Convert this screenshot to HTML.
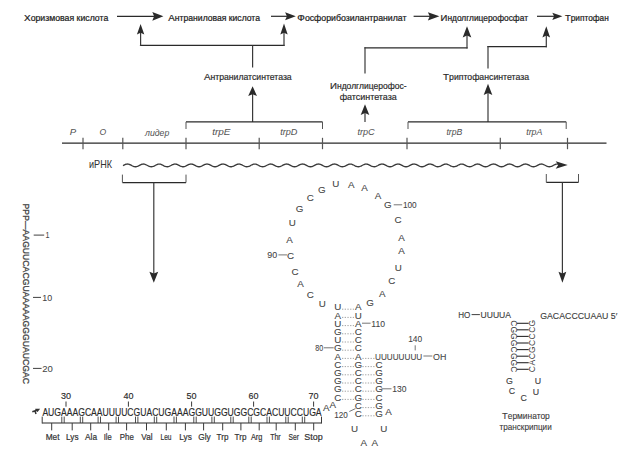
<!DOCTYPE html>
<html><head><meta charset="utf-8"><style>
html,body{margin:0;padding:0;background:#fff;}
svg{display:block;font-family:"Liberation Sans", sans-serif;}
</style></head><body>
<svg width="629" height="456" viewBox="0 0 629 456">
<rect width="629" height="456" fill="#fff"/>
<text x="24.0" y="20.50" font-size="8.6" textLength="84.3" lengthAdjust="spacingAndGlyphs" fill="#222" stroke="#222" stroke-width="0.22"><tspan font-size="9.8">Х</tspan>оризмовая кислота</text>
<text x="168.3" y="20.50" font-size="8.6" textLength="91.7" lengthAdjust="spacingAndGlyphs" fill="#222" stroke="#222" stroke-width="0.22"><tspan font-size="9.8">А</tspan>нтраниловая кислота</text>
<text x="297.3" y="20.50" font-size="8.6" textLength="109.2" lengthAdjust="spacingAndGlyphs" fill="#222" stroke="#222" stroke-width="0.22"><tspan font-size="9.8">Ф</tspan>осфорибозилантранилат</text>
<text x="440.6" y="20.50" font-size="8.6" textLength="87.4" lengthAdjust="spacingAndGlyphs" fill="#222" stroke="#222" stroke-width="0.22"><tspan font-size="9.8">И</tspan>ндолглицерофосфат</text>
<text x="565.0" y="20.50" font-size="8.6" textLength="43.7" lengthAdjust="spacingAndGlyphs" fill="#222" stroke="#222" stroke-width="0.22"><tspan font-size="9.8">Т</tspan>риптофан</text>
<line x1="117.0" y1="16.3" x2="157.4" y2="16.3" stroke="#2a2a2a" stroke-width="1.2" />
<polygon points="163.4,16.3 152.3,11.9 154.1,16.3 152.3,20.7" fill="#2a2a2a"/>
<line x1="271.0" y1="16.3" x2="289.8" y2="16.3" stroke="#2a2a2a" stroke-width="1.2" />
<polygon points="295.8,16.3 285.1,12.3 286.9,16.3 285.1,20.3" fill="#2a2a2a"/>
<line x1="413.6" y1="16.3" x2="433.4" y2="16.3" stroke="#2a2a2a" stroke-width="1.2" />
<polygon points="439.4,16.3 427.9,12.2 429.7,16.3 427.9,20.4" fill="#2a2a2a"/>
<line x1="537.0" y1="16.3" x2="556.4" y2="16.3" stroke="#2a2a2a" stroke-width="1.2" />
<polygon points="562.4,16.3 552.3,12.7 554.1,16.3 552.3,19.9" fill="#2a2a2a"/>
<line x1="139.9" y1="45.4" x2="284.6" y2="45.4" stroke="#2a2a2a" stroke-width="1.2" />
<line x1="140.6" y1="46.0" x2="140.6" y2="29.9" stroke="#3a3a3a" stroke-width="1.2" />
<polygon points="140.6,23.9 136.9,34.5 140.6,32.7 144.3,34.5" fill="#2a2a2a"/>
<line x1="284.0" y1="46.0" x2="284.0" y2="29.5" stroke="#3a3a3a" stroke-width="1.2" />
<polygon points="284.0,23.5 280.3,34.5 284.0,32.7 287.7,34.5" fill="#2a2a2a"/>
<line x1="252.6" y1="45.4" x2="252.6" y2="67.4" stroke="#3a3a3a" stroke-width="1.2" />
<text x="203.9" y="80.30" font-size="8.4" textLength="87.8" lengthAdjust="spacingAndGlyphs" fill="#2a2a2a" stroke="#2a2a2a" stroke-width="0.18"><tspan font-size="9.5">А</tspan>нтранилатсинтетаза</text>
<line x1="252.6" y1="121.9" x2="252.6" y2="92.3" stroke="#3a3a3a" stroke-width="1.2" />
<polygon points="252.6,86.3 248.2,96.1 252.6,94.3 257.0,96.1" fill="#2a2a2a"/>
<line x1="364.4" y1="47.8" x2="467.6" y2="47.8" stroke="#2a2a2a" stroke-width="1.2" />
<line x1="467.0" y1="48.4" x2="467.0" y2="32.2" stroke="#3a3a3a" stroke-width="1.2" />
<polygon points="467.0,26.2 462.7,37.4 467.0,35.6 471.3,37.4" fill="#2a2a2a"/>
<line x1="365.0" y1="47.2" x2="365.0" y2="73.4" stroke="#3a3a3a" stroke-width="1.2" />
<text x="330.0" y="88.50" font-size="8.4" textLength="76.6" lengthAdjust="spacingAndGlyphs" fill="#2a2a2a" stroke="#2a2a2a" stroke-width="0.18"><tspan font-size="9.5">И</tspan>ндолглицерофос-</text>
<text x="339.7" y="100.00" font-size="8.4" textLength="57.1" lengthAdjust="spacingAndGlyphs" fill="#2a2a2a" stroke="#2a2a2a" stroke-width="0.18"><tspan font-size="8.4">ф</tspan>атсинтетаза</text>
<line x1="365.0" y1="122.0" x2="365.0" y2="110.2" stroke="#3a3a3a" stroke-width="1.2" />
<polygon points="365.0,104.2 360.7,114.9 365.0,113.1 369.3,114.9" fill="#2a2a2a"/>
<line x1="487.4" y1="46.6" x2="546.9" y2="46.6" stroke="#2a2a2a" stroke-width="1.2" />
<line x1="546.3" y1="47.2" x2="546.3" y2="32.2" stroke="#3a3a3a" stroke-width="1.2" />
<polygon points="546.3,26.2 542.4,37.4 546.3,35.6 550.1,37.4" fill="#2a2a2a"/>
<line x1="488.0" y1="46.0" x2="488.0" y2="68.5" stroke="#3a3a3a" stroke-width="1.2" />
<text x="443.0" y="79.60" font-size="8.4" textLength="86.0" lengthAdjust="spacingAndGlyphs" fill="#2a2a2a" stroke="#2a2a2a" stroke-width="0.18"><tspan font-size="9.5">Т</tspan>риптофансинтетаза</text>
<line x1="488.0" y1="121.9" x2="488.0" y2="89.7" stroke="#3a3a3a" stroke-width="1.2" />
<polygon points="488.0,83.7 483.7,94.9 488.0,93.1 492.3,94.9" fill="#2a2a2a"/>
<line x1="186.0" y1="121.9" x2="322.5" y2="121.9" stroke="#2a2a2a" stroke-width="1.2" />
<line x1="186.0" y1="121.9" x2="186.0" y2="129.0" stroke="#555" stroke-width="1.0" />
<line x1="322.5" y1="121.9" x2="322.5" y2="129.0" stroke="#555" stroke-width="1.0" />
<line x1="408.0" y1="121.9" x2="566.2" y2="121.9" stroke="#2a2a2a" stroke-width="1.2" />
<line x1="408.0" y1="121.9" x2="408.0" y2="129.0" stroke="#555" stroke-width="1.0" />
<line x1="566.2" y1="121.9" x2="566.2" y2="129.0" stroke="#555" stroke-width="1.0" />
<line x1="62.0" y1="143.2" x2="606.5" y2="143.2" stroke="#2a2a2a" stroke-width="1.2" />
<line x1="83.0" y1="137.8" x2="83.0" y2="149.2" stroke="#555" stroke-width="1.2" />
<line x1="122.8" y1="137.8" x2="122.8" y2="149.2" stroke="#555" stroke-width="1.2" />
<line x1="186.0" y1="137.8" x2="186.0" y2="149.2" stroke="#555" stroke-width="1.2" />
<line x1="259.2" y1="137.8" x2="259.2" y2="149.2" stroke="#555" stroke-width="1.2" />
<line x1="322.5" y1="137.8" x2="322.5" y2="149.2" stroke="#555" stroke-width="1.2" />
<line x1="407.0" y1="137.8" x2="407.0" y2="149.2" stroke="#555" stroke-width="1.2" />
<line x1="500.3" y1="137.8" x2="500.3" y2="149.2" stroke="#555" stroke-width="1.2" />
<line x1="567.5" y1="137.8" x2="567.5" y2="149.2" stroke="#555" stroke-width="1.2" />
<text x="69.8" y="135.3" font-size="9.2" textLength="6.4" lengthAdjust="spacingAndGlyphs" fill="#555" style="font-style:italic;"  stroke="#555" stroke-width="0.05">P</text>
<text x="99.4" y="135.4" font-size="9.2" textLength="6.7" lengthAdjust="spacingAndGlyphs" fill="#555" style="font-style:italic;"  stroke="#555" stroke-width="0.05">O</text>
<text x="145.0" y="135.6" font-size="9.6" textLength="24.3" lengthAdjust="spacingAndGlyphs" fill="#555" style="font-style:italic;"  stroke="#555" stroke-width="0.05">лидер</text>
<text x="212.2" y="135.4" font-size="9.6" textLength="18.3" lengthAdjust="spacingAndGlyphs" fill="#555" style="font-style:italic;"  stroke="#555" stroke-width="0.05">trpE</text>
<text x="280.2" y="135.4" font-size="9.6" textLength="17.2" lengthAdjust="spacingAndGlyphs" fill="#555" style="font-style:italic;"  stroke="#555" stroke-width="0.05">trpD</text>
<text x="357.5" y="135.4" font-size="9.6" textLength="17.2" lengthAdjust="spacingAndGlyphs" fill="#555" style="font-style:italic;"  stroke="#555" stroke-width="0.05">trpC</text>
<text x="446.4" y="135.4" font-size="9.6" textLength="16.0" lengthAdjust="spacingAndGlyphs" fill="#555" style="font-style:italic;"  stroke="#555" stroke-width="0.05">trpB</text>
<text x="526.2" y="135.4" font-size="9.6" textLength="16.2" lengthAdjust="spacingAndGlyphs" fill="#555" style="font-style:italic;"  stroke="#555" stroke-width="0.05">trpA</text>
<text x="89.0" y="168.0" font-size="10.2" textLength="23.0" lengthAdjust="spacingAndGlyphs" fill="#333" style=""  stroke="#333" stroke-width="0.05">иРНК</text>
<polyline points="123.00,165.62 123.50,165.36 124.00,165.09 124.50,164.84 125.00,164.61 125.50,164.41 126.00,164.25 126.50,164.13 127.00,164.07 127.50,164.05 128.00,164.09 128.50,164.18 129.00,164.31 129.50,164.49 130.00,164.70 130.50,164.94 131.00,165.20 131.50,165.46 132.00,165.73 132.50,165.98 133.00,166.21 133.50,166.40 134.00,166.56 134.50,166.67 135.00,166.74 135.50,166.75 136.00,166.71 136.50,166.62 137.00,166.48 137.50,166.30 138.00,166.08 138.50,165.84 139.00,165.58 139.50,165.31 140.00,165.05 140.50,164.80 141.00,164.58 141.50,164.38 142.00,164.23 142.50,164.12 143.00,164.06 143.50,164.05 144.00,164.10 144.50,164.19 145.00,164.34 145.50,164.52 146.00,164.74 146.50,164.98 147.00,165.24 147.50,165.51 148.00,165.77 148.50,166.02 149.00,166.24 149.50,166.43 150.00,166.58 150.50,166.69 151.00,166.74 151.50,166.74 152.00,166.70 152.50,166.60 153.00,166.45 153.50,166.26 154.00,166.04 154.50,165.80 155.00,165.54 155.50,165.27 156.00,165.01 156.50,164.77 157.00,164.54 157.50,164.36 158.00,164.21 158.50,164.11 159.00,164.06 159.50,164.06 160.00,164.11 160.50,164.21 161.00,164.36 161.50,164.55 162.00,164.77 162.50,165.02 163.00,165.28 163.50,165.55 164.00,165.81 164.50,166.05 165.00,166.27 165.50,166.46 166.00,166.60 166.50,166.70 167.00,166.75 167.50,166.74 168.00,166.68 168.50,166.58 169.00,166.42 169.50,166.23 170.00,166.01 170.50,165.76 171.00,165.50 171.50,165.23 172.00,164.97 172.50,164.73 173.00,164.51 173.50,164.33 174.00,164.19 174.50,164.10 175.00,164.05 175.50,164.06 176.00,164.12 176.50,164.23 177.00,164.39 177.50,164.59 178.00,164.81 178.50,165.06 179.00,165.33 179.50,165.59 180.00,165.85 180.50,166.09 181.00,166.30 181.50,166.48 182.00,166.62 182.50,166.71 183.00,166.75 183.50,166.73 184.00,166.67 184.50,166.55 185.00,166.40 185.50,166.20 186.00,165.97 186.50,165.72 187.00,165.45 187.50,165.19 188.00,164.93 188.50,164.69 189.00,164.48 189.50,164.30 190.00,164.17 190.50,164.09 191.00,164.05 191.50,164.07 192.00,164.14 192.50,164.26 193.00,164.42 193.50,164.62 194.00,164.85 194.50,165.10 195.00,165.37 195.50,165.63 196.00,165.89 196.50,166.13 197.00,166.34 197.50,166.51 198.00,166.64 198.50,166.72 199.00,166.75 199.50,166.73 200.00,166.65 200.50,166.53 201.00,166.37 201.50,166.16 202.00,165.93 202.50,165.68 203.00,165.41 203.50,165.15 204.00,164.89 204.50,164.66 205.00,164.45 205.50,164.28 206.00,164.15 206.50,164.08 207.00,164.05 207.50,164.08 208.00,164.15 208.50,164.28 209.00,164.45 209.50,164.66 210.00,164.89 210.50,165.15 211.00,165.41 211.50,165.68 212.00,165.93 212.50,166.16 213.00,166.37 213.50,166.53 214.00,166.65 214.50,166.73 215.00,166.75 215.50,166.72 216.00,166.64 216.50,166.51 217.00,166.34 217.50,166.13 218.00,165.89 218.50,165.63 219.00,165.37 219.50,165.10 220.00,164.85 220.50,164.62 221.00,164.42 221.50,164.26 222.00,164.14 222.50,164.07 223.00,164.05 223.50,164.09 224.00,164.17 224.50,164.30 225.00,164.48 225.50,164.69 226.00,164.93 226.50,165.19 227.00,165.45 227.50,165.72 228.00,165.97 228.50,166.20 229.00,166.40 229.50,166.55 230.00,166.67 230.50,166.73 231.00,166.75 231.50,166.71 232.00,166.62 232.50,166.48 233.00,166.30 233.50,166.09 234.00,165.85 234.50,165.59 235.00,165.33 235.50,165.06 236.00,164.81 236.50,164.59 237.00,164.39 237.50,164.23 238.00,164.12 238.50,164.06 239.00,164.05 239.50,164.10 240.00,164.19 240.50,164.33 241.00,164.51 241.50,164.73 242.00,164.97 242.50,165.23 243.00,165.50 243.50,165.76 244.00,166.01 244.50,166.23 245.00,166.42 245.50,166.58 246.00,166.68 246.50,166.74 247.00,166.75 247.50,166.70 248.00,166.60 248.50,166.46 249.00,166.27 249.50,166.05 250.00,165.81 250.50,165.55 251.00,165.28 251.50,165.02 252.00,164.77 252.50,164.55 253.00,164.36 253.50,164.21 254.00,164.11 254.50,164.06 255.00,164.06 255.50,164.11 256.00,164.21 256.50,164.36 257.00,164.54 257.50,164.77 258.00,165.01 258.50,165.27 259.00,165.54 259.50,165.80 260.00,166.04 260.50,166.26 261.00,166.45 261.50,166.60 262.00,166.70 262.50,166.74 263.00,166.74 263.50,166.69 264.00,166.58 264.50,166.43 265.00,166.24 265.50,166.02 266.00,165.77 266.50,165.51 267.00,165.24 267.50,164.98 268.00,164.74 268.50,164.52 269.00,164.34 269.50,164.19 270.00,164.10 270.50,164.05 271.00,164.06 271.50,164.12 272.00,164.23 272.50,164.38 273.00,164.58 273.50,164.80 274.00,165.05 274.50,165.31 275.00,165.58 275.50,165.84 276.00,166.08 276.50,166.30 277.00,166.48 277.50,166.62 278.00,166.71 278.50,166.75 279.00,166.74 279.50,166.67 280.00,166.56 280.50,166.40 281.00,166.21 281.50,165.98 282.00,165.73 282.50,165.46 283.00,165.20 283.50,164.94 284.00,164.70 284.50,164.49 285.00,164.31 285.50,164.18 286.00,164.09 286.50,164.05 287.00,164.07 287.50,164.13 288.00,164.25 288.50,164.41 289.00,164.61 289.50,164.84 290.00,165.09 290.50,165.36 291.00,165.62 291.50,165.88 292.00,166.12 292.50,166.33 293.00,166.50 293.50,166.63 294.00,166.72 294.50,166.75 295.00,166.73 295.50,166.66 296.00,166.54 296.50,166.37 297.00,166.17 297.50,165.94 298.00,165.69 298.50,165.42 299.00,165.16 299.50,164.90 300.00,164.66 300.50,164.46 301.00,164.29 301.50,164.16 302.00,164.08 302.50,164.05 303.00,164.07 303.50,164.15 304.00,164.27 304.50,164.44 305.00,164.65 305.50,164.88 306.00,165.14 306.50,165.40 307.00,165.66 307.50,165.92 308.00,166.15 308.50,166.36 309.00,166.53 309.50,166.65 310.00,166.73 310.50,166.75 311.00,166.72 311.50,166.64 312.00,166.51 312.50,166.34 313.00,166.14 313.50,165.90 314.00,165.64 314.50,165.38 315.00,165.11 315.50,164.86 316.00,164.63 316.50,164.43 317.00,164.26 317.50,164.14 318.00,164.07 318.50,164.05 319.00,164.08 319.50,164.17 320.00,164.30 320.50,164.47 321.00,164.68 321.50,164.92 322.00,165.18 322.50,165.44 323.00,165.71 323.50,165.96 324.00,166.19 324.50,166.39 325.00,166.55 325.50,166.67 326.00,166.73 326.50,166.75 327.00,166.71 327.50,166.62 328.00,166.49 328.50,166.31 329.00,166.10 329.50,165.86 330.00,165.60 330.50,165.34 331.00,165.07 331.50,164.82 332.00,164.59 332.50,164.40 333.00,164.24 333.50,164.13 334.00,164.06 334.50,164.05 335.00,164.09 335.50,164.18 336.00,164.32 336.50,164.50 337.00,164.72 337.50,164.96 338.00,165.22 338.50,165.49 339.00,165.75 339.50,166.00 340.00,166.22 340.50,166.42 341.00,166.57 341.50,166.68 342.00,166.74 342.50,166.75 343.00,166.70 343.50,166.61 344.00,166.46 344.50,166.28 345.00,166.06 345.50,165.82 346.00,165.56 346.50,165.29 347.00,165.03 347.50,164.78 348.00,164.56 348.50,164.37 349.00,164.22 349.50,164.11 350.00,164.06 350.50,164.06 351.00,164.10 351.50,164.20 352.00,164.35 352.50,164.54 353.00,164.76 353.50,165.00 354.00,165.26 354.50,165.53 355.00,165.79 355.50,166.03 356.00,166.26 356.50,166.44 357.00,166.59 357.50,166.69 358.00,166.74 358.50,166.74 359.00,166.69 359.50,166.59 360.00,166.44 360.50,166.25 361.00,166.03 361.50,165.78 362.00,165.52 362.50,165.25 363.00,164.99 363.50,164.75 364.00,164.53 364.50,164.34 365.00,164.20 365.50,164.10 366.00,164.05 366.50,164.06 367.00,164.12 367.50,164.22 368.00,164.38 368.50,164.57 369.00,164.79 369.50,165.04 370.00,165.30 370.50,165.57 371.00,165.83 371.50,166.07 372.00,166.29 372.50,166.47 373.00,166.61 373.50,166.70 374.00,166.75 374.50,166.74 375.00,166.68 375.50,166.57 376.00,166.41 376.50,166.21 377.00,165.99 377.50,165.74 378.00,165.47 378.50,165.21 379.00,164.95 379.50,164.71 380.00,164.50 380.50,164.32 381.00,164.18 381.50,164.09 382.00,164.05 382.50,164.07 383.00,164.13 383.50,164.25 384.00,164.40 384.50,164.60 385.00,164.83 385.50,165.08 386.00,165.35 386.50,165.61 387.00,165.87 387.50,166.11 388.00,166.32 388.50,166.50 389.00,166.63 389.50,166.71 390.00,166.75 390.50,166.73 391.00,166.66 391.50,166.54 392.00,166.38 392.50,166.18 393.00,165.95 393.50,165.70 394.00,165.43 394.50,165.17 395.00,164.91 395.50,164.67 396.00,164.46 396.50,164.29 397.00,164.16 397.50,164.08 398.00,164.05 398.50,164.07 399.00,164.15 399.50,164.27 400.00,164.43 400.50,164.64 401.00,164.87 401.50,165.12 402.00,165.39 402.50,165.65 403.00,165.91 403.50,166.14 404.00,166.35 404.50,166.52 405.00,166.65 405.50,166.72 406.00,166.75 406.50,166.72 407.00,166.65 407.50,166.52 408.00,166.35 408.50,166.14 409.00,165.91 409.50,165.65 410.00,165.39 410.50,165.12 411.00,164.87 411.50,164.64 412.00,164.43 412.50,164.27 413.00,164.15 413.50,164.07 414.00,164.05 414.50,164.08 415.00,164.16 415.50,164.29 416.00,164.46 416.50,164.67 417.00,164.91 417.50,165.17 418.00,165.43 418.50,165.70 419.00,165.95 419.50,166.18 420.00,166.38 420.50,166.54 421.00,166.66 421.50,166.73 422.00,166.75 422.50,166.71 423.00,166.63 423.50,166.50 424.00,166.32 424.50,166.11 425.00,165.87 425.50,165.61 426.00,165.35 426.50,165.08 427.00,164.83 427.50,164.60 428.00,164.40 428.50,164.25 429.00,164.13 429.50,164.07 430.00,164.05 430.50,164.09 431.00,164.18 431.50,164.32 432.00,164.50 432.50,164.71 433.00,164.95 433.50,165.21 434.00,165.47 434.50,165.74 435.00,165.99 435.50,166.21 436.00,166.41 436.50,166.57 437.00,166.68 437.50,166.74 438.00,166.75 438.50,166.70 439.00,166.61 439.50,166.47 440.00,166.29 440.50,166.07 441.00,165.83 441.50,165.57 442.00,165.30 442.50,165.04 443.00,164.79 443.50,164.57 444.00,164.38 444.50,164.22 445.00,164.12 445.50,164.06 446.00,164.05 446.50,164.10 447.00,164.20 447.50,164.34 448.00,164.53 448.50,164.75 449.00,164.99 449.50,165.25 450.00,165.52 450.50,165.78 451.00,166.03 451.50,166.25 452.00,166.44 452.50,166.59 453.00,166.69 453.50,166.74 454.00,166.74 454.50,166.69 455.00,166.59 455.50,166.44 456.00,166.26 456.50,166.03 457.00,165.79 457.50,165.53 458.00,165.26 458.50,165.00 459.00,164.76 459.50,164.54 460.00,164.35 460.50,164.20 461.00,164.10 461.50,164.06 462.00,164.06 462.50,164.11 463.00,164.22 463.50,164.37 464.00,164.56 464.50,164.78 465.00,165.03 465.50,165.29 466.00,165.56 466.50,165.82 467.00,166.06 467.50,166.28 468.00,166.46 468.50,166.61 469.00,166.70 469.50,166.75 470.00,166.74 470.50,166.68 471.00,166.57 471.50,166.42 472.00,166.22 472.50,166.00 473.00,165.75 473.50,165.49 474.00,165.22 474.50,164.96 475.00,164.72 475.50,164.50 476.00,164.32 476.50,164.18 477.00,164.09 477.50,164.05 478.00,164.06 478.50,164.13 479.00,164.24 479.50,164.40 480.00,164.59 480.50,164.82 481.00,165.07 481.50,165.34 482.00,165.60 482.50,165.86 483.00,166.10 483.50,166.31 484.00,166.49 484.50,166.62 485.00,166.71 485.50,166.75 486.00,166.73 486.50,166.67 487.00,166.55 487.50,166.39 488.00,166.19 488.50,165.96 489.00,165.71 489.50,165.44 490.00,165.18 490.50,164.92 491.00,164.68 491.50,164.47 492.00,164.30 492.50,164.17 493.00,164.08 493.50,164.05 494.00,164.07 494.50,164.14 495.00,164.26 495.50,164.43 496.00,164.63 496.50,164.86 497.00,165.11 497.50,165.38 498.00,165.64 498.50,165.90 499.00,166.14 499.50,166.34 500.00,166.51 500.50,166.64 501.00,166.72 501.50,166.75 502.00,166.73 502.50,166.65 503.00,166.53 503.50,166.36 504.00,166.15 504.50,165.92 505.00,165.66 505.50,165.40 506.00,165.14 506.50,164.88 507.00,164.65 507.50,164.44 508.00,164.27 508.50,164.15 509.00,164.07 509.50,164.05 510.00,164.08 510.50,164.16 511.00,164.29 511.50,164.46 512.00,164.66 512.50,164.90 513.00,165.16 513.50,165.42 514.00,165.69 514.50,165.94 515.00,166.17 515.50,166.37 516.00,166.54 516.50,166.66 517.00,166.73 517.50,166.75 518.00,166.72 518.50,166.63 519.00,166.50 519.50,166.33 520.00,166.12 520.50,165.88 521.00,165.62 521.50,165.36 522.00,165.09 522.50,164.84 523.00,164.61 523.50,164.41 524.00,164.25 524.50,164.13 525.00,164.07 525.50,164.05 526.00,164.09 526.50,164.18 527.00,164.31 527.50,164.49 528.00,164.70 528.50,164.94 529.00,165.20 529.50,165.46 530.00,165.73 530.50,165.98 531.00,166.21 531.50,166.40 532.00,166.56 532.50,166.67 533.00,166.74 533.50,166.75 534.00,166.71 534.50,166.62 535.00,166.48 535.50,166.30 536.00,166.08 536.50,165.84 537.00,165.58 537.50,165.31 538.00,165.05 538.50,164.80 539.00,164.58 539.50,164.38 540.00,164.23 540.50,164.12 541.00,164.06 541.50,164.05 542.00,164.10 542.50,164.19 543.00,164.34 543.50,164.52 544.00,164.74 544.50,164.98 545.00,165.24 545.50,165.51 546.00,165.77 546.50,166.02 547.00,166.24 547.50,166.43 548.00,166.58 548.50,166.69 549.00,166.74 549.50,166.74 550.00,166.70 550.50,166.60 551.00,166.45 551.50,166.26 552.00,166.04 552.50,165.80 553.00,165.54 553.50,165.27 554.00,165.01 554.50,164.77 555.00,164.54 555.50,164.36 556.00,164.21 556.50,164.11 557.00,164.06 557.50,164.06 558.00,164.11" stroke="#3a3a3a" stroke-width="1.35" fill="none"/>
<polygon points="567.7,165.0 555.7,161.3 558.2,165.0 555.7,168.7" fill="#2a2a2a"/>
<line x1="122.4" y1="182.6" x2="186.0" y2="182.6" stroke="#2a2a2a" stroke-width="1.2" />
<line x1="122.4" y1="174.6" x2="122.4" y2="182.6" stroke="#555" stroke-width="1.0" />
<line x1="186.0" y1="174.6" x2="186.0" y2="182.6" stroke="#555" stroke-width="1.0" />
<line x1="153.8" y1="182.6" x2="153.8" y2="276.8" stroke="#3a3a3a" stroke-width="1.2" />
<polygon points="153.8,282.8 149.4,271.7 153.8,273.5 158.2,271.7" fill="#2a2a2a"/>
<line x1="546.3" y1="182.4" x2="578.5" y2="182.4" stroke="#2a2a2a" stroke-width="1.2" />
<line x1="546.3" y1="174.0" x2="546.3" y2="182.4" stroke="#555" stroke-width="1.0" />
<line x1="578.5" y1="174.0" x2="578.5" y2="182.4" stroke="#555" stroke-width="1.0" />
<line x1="562.4" y1="182.4" x2="562.4" y2="276.8" stroke="#3a3a3a" stroke-width="1.2" />
<polygon points="562.4,282.8 558.5,271.7 562.4,273.5 566.3,271.7" fill="#2a2a2a"/>
<text x="0" y="0" font-size="9.5" textLength="180.4" lengthAdjust="spacingAndGlyphs" fill="#444" stroke="#444" stroke-width="0.3" transform="translate(23.0,203.6) rotate(90)">PPP—AAGUUCACGUAAAAAGGGUAUCGAC</text>
<line x1="33.7" y1="235.1" x2="44.2" y2="235.1" stroke="#2a2a2a" stroke-width="0.9" />
<text x="45.5" y="238.3" font-size="9" textLength="4.0" lengthAdjust="spacingAndGlyphs" fill="#444" style=""  stroke="#444" stroke-width="0.05">1</text>
<line x1="33.0" y1="297.4" x2="41.0" y2="297.4" stroke="#2a2a2a" stroke-width="0.9" />
<text x="42.2" y="300.6" font-size="9" textLength="9.9" lengthAdjust="spacingAndGlyphs" fill="#444" style=""  stroke="#444" stroke-width="0.05">10</text>
<line x1="33.0" y1="368.4" x2="41.6" y2="368.4" stroke="#2a2a2a" stroke-width="0.9" />
<text x="42.2" y="371.6" font-size="9" textLength="10.6" lengthAdjust="spacingAndGlyphs" fill="#444" style=""  stroke="#444" stroke-width="0.05">20</text>
<text x="322.4" y="306.7" font-size="9.8" text-anchor="middle" fill="#444" style="" stroke="#444" stroke-width="0.08">U</text>
<text x="310.3" y="297.5" font-size="9.8" text-anchor="middle" fill="#444" style="" stroke="#444" stroke-width="0.08">C</text>
<text x="300.4" y="287.3" font-size="9.8" text-anchor="middle" fill="#444" style="" stroke="#444" stroke-width="0.08">A</text>
<text x="295.1" y="275.1" font-size="9.8" text-anchor="middle" fill="#444" style="" stroke="#444" stroke-width="0.08">C</text>
<text x="290.5" y="258.5" font-size="9.8" text-anchor="middle" fill="#444" style="" stroke="#444" stroke-width="0.08">C</text>
<text x="289.6" y="243.4" font-size="9.8" text-anchor="middle" fill="#444" style="" stroke="#444" stroke-width="0.08">A</text>
<text x="292.2" y="226.3" font-size="9.8" text-anchor="middle" fill="#444" style="" stroke="#444" stroke-width="0.08">U</text>
<text x="299.5" y="211.8" font-size="9.8" text-anchor="middle" fill="#444" style="" stroke="#444" stroke-width="0.08">G</text>
<text x="310.4" y="201.0" font-size="9.8" text-anchor="middle" fill="#444" style="" stroke="#444" stroke-width="0.08">C</text>
<text x="321.8" y="193.0" font-size="9.8" text-anchor="middle" fill="#444" style="" stroke="#444" stroke-width="0.08">G</text>
<text x="335.9" y="187.2" font-size="9.8" text-anchor="middle" fill="#444" style="" stroke="#444" stroke-width="0.08">U</text>
<text x="351.3" y="187.7" font-size="9.8" text-anchor="middle" fill="#444" style="" stroke="#444" stroke-width="0.08">A</text>
<text x="364.5" y="190.8" font-size="9.8" text-anchor="middle" fill="#444" style="" stroke="#444" stroke-width="0.08">A</text>
<text x="378.0" y="198.7" font-size="9.8" text-anchor="middle" fill="#444" style="" stroke="#444" stroke-width="0.08">A</text>
<text x="387.7" y="208.2" font-size="9.8" text-anchor="middle" fill="#444" style="" stroke="#444" stroke-width="0.08">G</text>
<text x="398.0" y="223.2" font-size="9.8" text-anchor="middle" fill="#444" style="" stroke="#444" stroke-width="0.08">C</text>
<text x="401.6" y="240.8" font-size="9.8" text-anchor="middle" fill="#444" style="" stroke="#444" stroke-width="0.08">A</text>
<text x="401.6" y="254.0" font-size="9.8" text-anchor="middle" fill="#444" style="" stroke="#444" stroke-width="0.08">A</text>
<text x="398.4" y="271.0" font-size="9.8" text-anchor="middle" fill="#444" style="" stroke="#444" stroke-width="0.08">U</text>
<text x="391.8" y="283.8" font-size="9.8" text-anchor="middle" fill="#444" style="" stroke="#444" stroke-width="0.08">C</text>
<text x="382.2" y="297.0" font-size="9.8" text-anchor="middle" fill="#444" style="" stroke="#444" stroke-width="0.08">A</text>
<text x="370.0" y="305.5" font-size="9.8" text-anchor="middle" fill="#444" style="" stroke="#444" stroke-width="0.08">G</text>
<text x="337.8" y="310.4" font-size="9.8" text-anchor="middle" fill="#444" style="" stroke="#444" stroke-width="0.08">U</text>
<text x="337.8" y="318.6" font-size="9.8" text-anchor="middle" fill="#444" style="" stroke="#444" stroke-width="0.08">A</text>
<text x="337.8" y="326.8" font-size="9.8" text-anchor="middle" fill="#444" style="" stroke="#444" stroke-width="0.08">U</text>
<text x="337.8" y="335.0" font-size="9.8" text-anchor="middle" fill="#444" style="" stroke="#444" stroke-width="0.08">G</text>
<text x="337.8" y="343.2" font-size="9.8" text-anchor="middle" fill="#444" style="" stroke="#444" stroke-width="0.08">U</text>
<text x="337.8" y="351.4" font-size="9.8" text-anchor="middle" fill="#444" style="" stroke="#444" stroke-width="0.08">G</text>
<text x="337.8" y="359.6" font-size="9.8" text-anchor="middle" fill="#444" style="" stroke="#444" stroke-width="0.08">A</text>
<text x="337.8" y="367.8" font-size="9.8" text-anchor="middle" fill="#444" style="" stroke="#444" stroke-width="0.08">C</text>
<text x="337.8" y="376.0" font-size="9.8" text-anchor="middle" fill="#444" style="" stroke="#444" stroke-width="0.08">G</text>
<text x="337.8" y="384.2" font-size="9.8" text-anchor="middle" fill="#444" style="" stroke="#444" stroke-width="0.08">G</text>
<text x="337.8" y="392.4" font-size="9.8" text-anchor="middle" fill="#444" style="" stroke="#444" stroke-width="0.08">G</text>
<text x="337.8" y="400.6" font-size="9.8" text-anchor="middle" fill="#444" style="" stroke="#444" stroke-width="0.08">C</text>
<text x="358.2" y="310.4" font-size="9.8" text-anchor="middle" fill="#444" style="" stroke="#444" stroke-width="0.08">A</text>
<text x="358.2" y="318.6" font-size="9.8" text-anchor="middle" fill="#444" style="" stroke="#444" stroke-width="0.08">U</text>
<text x="358.2" y="326.8" font-size="9.8" text-anchor="middle" fill="#444" style="" stroke="#444" stroke-width="0.08">A</text>
<text x="358.2" y="335.0" font-size="9.8" text-anchor="middle" fill="#444" style="" stroke="#444" stroke-width="0.08">C</text>
<text x="358.2" y="343.2" font-size="9.8" text-anchor="middle" fill="#444" style="" stroke="#444" stroke-width="0.08">C</text>
<text x="358.2" y="351.4" font-size="9.8" text-anchor="middle" fill="#444" style="" stroke="#444" stroke-width="0.08">C</text>
<text x="358.2" y="359.6" font-size="9.8" text-anchor="middle" fill="#444" style="" stroke="#444" stroke-width="0.08">A</text>
<text x="358.2" y="367.8" font-size="9.8" text-anchor="middle" fill="#444" style="" stroke="#444" stroke-width="0.08">G</text>
<text x="358.2" y="376.0" font-size="9.8" text-anchor="middle" fill="#444" style="" stroke="#444" stroke-width="0.08">C</text>
<text x="358.2" y="384.2" font-size="9.8" text-anchor="middle" fill="#444" style="" stroke="#444" stroke-width="0.08">C</text>
<text x="358.2" y="392.4" font-size="9.8" text-anchor="middle" fill="#444" style="" stroke="#444" stroke-width="0.08">C</text>
<text x="358.2" y="400.6" font-size="9.8" text-anchor="middle" fill="#444" style="" stroke="#444" stroke-width="0.08">G</text>
<text x="358.2" y="408.8" font-size="9.8" text-anchor="middle" fill="#444" style="" stroke="#444" stroke-width="0.08">C</text>
<text x="358.2" y="417.0" font-size="9.8" text-anchor="middle" fill="#444" style="" stroke="#444" stroke-width="0.08">C</text>
<text x="379.0" y="367.8" font-size="9.8" text-anchor="middle" fill="#444" style="" stroke="#444" stroke-width="0.08">C</text>
<text x="379.0" y="376.0" font-size="9.8" text-anchor="middle" fill="#444" style="" stroke="#444" stroke-width="0.08">G</text>
<text x="379.0" y="384.2" font-size="9.8" text-anchor="middle" fill="#444" style="" stroke="#444" stroke-width="0.08">G</text>
<text x="379.0" y="392.4" font-size="9.8" text-anchor="middle" fill="#444" style="" stroke="#444" stroke-width="0.08">G</text>
<text x="379.0" y="400.6" font-size="9.8" text-anchor="middle" fill="#444" style="" stroke="#444" stroke-width="0.08">C</text>
<text x="379.0" y="408.8" font-size="9.8" text-anchor="middle" fill="#444" style="" stroke="#444" stroke-width="0.08">G</text>
<text x="379.0" y="417.0" font-size="9.8" text-anchor="middle" fill="#444" style="" stroke="#444" stroke-width="0.08">G</text>
<line x1="342.0" y1="309.2" x2="354.0" y2="309.2" stroke="#999" stroke-width="0.9" stroke-dasharray="1.3,1.4"/>
<line x1="342.0" y1="317.4" x2="354.0" y2="317.4" stroke="#999" stroke-width="0.9" stroke-dasharray="1.3,1.4"/>
<line x1="342.0" y1="325.6" x2="354.0" y2="325.6" stroke="#999" stroke-width="0.9" stroke-dasharray="1.3,1.4"/>
<line x1="342.0" y1="333.8" x2="354.0" y2="333.8" stroke="#999" stroke-width="0.9" stroke-dasharray="1.3,1.4"/>
<line x1="342.0" y1="342.0" x2="354.0" y2="342.0" stroke="#999" stroke-width="0.9" stroke-dasharray="1.3,1.4"/>
<line x1="342.0" y1="350.2" x2="354.0" y2="350.2" stroke="#999" stroke-width="0.9" stroke-dasharray="1.3,1.4"/>
<line x1="342.0" y1="358.4" x2="354.0" y2="358.4" stroke="#999" stroke-width="0.9" stroke-dasharray="1.3,1.4"/>
<line x1="342.0" y1="366.6" x2="354.0" y2="366.6" stroke="#999" stroke-width="0.9" stroke-dasharray="1.3,1.4"/>
<line x1="342.0" y1="374.8" x2="354.0" y2="374.8" stroke="#999" stroke-width="0.9" stroke-dasharray="1.3,1.4"/>
<line x1="342.0" y1="383.0" x2="354.0" y2="383.0" stroke="#999" stroke-width="0.9" stroke-dasharray="1.3,1.4"/>
<line x1="342.0" y1="391.2" x2="354.0" y2="391.2" stroke="#999" stroke-width="0.9" stroke-dasharray="1.3,1.4"/>
<line x1="342.0" y1="399.4" x2="354.0" y2="399.4" stroke="#999" stroke-width="0.9" stroke-dasharray="1.3,1.4"/>
<line x1="362.4" y1="358.4" x2="374.8" y2="358.4" stroke="#999" stroke-width="0.9" stroke-dasharray="1.3,1.4"/>
<line x1="362.4" y1="366.6" x2="374.8" y2="366.6" stroke="#999" stroke-width="0.9" stroke-dasharray="1.3,1.4"/>
<line x1="362.4" y1="374.8" x2="374.8" y2="374.8" stroke="#999" stroke-width="0.9" stroke-dasharray="1.3,1.4"/>
<line x1="362.4" y1="383.0" x2="374.8" y2="383.0" stroke="#999" stroke-width="0.9" stroke-dasharray="1.3,1.4"/>
<line x1="362.4" y1="391.2" x2="374.8" y2="391.2" stroke="#999" stroke-width="0.9" stroke-dasharray="1.3,1.4"/>
<line x1="362.4" y1="399.4" x2="374.8" y2="399.4" stroke="#999" stroke-width="0.9" stroke-dasharray="1.3,1.4"/>
<line x1="362.4" y1="407.6" x2="374.8" y2="407.6" stroke="#999" stroke-width="0.9" stroke-dasharray="1.3,1.4"/>
<line x1="362.4" y1="415.8" x2="374.8" y2="415.8" stroke="#999" stroke-width="0.9" stroke-dasharray="1.3,1.4"/>
<line x1="278.4" y1="254.9" x2="287.0" y2="254.9" stroke="#666" stroke-width="0.9" />
<text x="267.2" y="258.2" font-size="9" textLength="9.9" lengthAdjust="spacingAndGlyphs" fill="#444" style=""  stroke="#444" stroke-width="0.08">90</text>
<line x1="393.7" y1="204.8" x2="402.2" y2="204.8" stroke="#666" stroke-width="0.9" />
<text x="402.9" y="208.0" font-size="9" textLength="13.8" lengthAdjust="spacingAndGlyphs" fill="#444" style=""  stroke="#444" stroke-width="0.08">100</text>
<line x1="362.0" y1="323.2" x2="370.6" y2="323.2" stroke="#666" stroke-width="0.9" />
<text x="371.3" y="326.5" font-size="9" textLength="13.7" lengthAdjust="spacingAndGlyphs" fill="#444" style=""  stroke="#444" stroke-width="0.08">110</text>
<line x1="323.8" y1="347.8" x2="333.7" y2="347.8" stroke="#666" stroke-width="0.9" />
<text x="315.3" y="351.1" font-size="9" textLength="7.9" lengthAdjust="spacingAndGlyphs" fill="#444" style=""  stroke="#444" stroke-width="0.08">80</text>
<line x1="381.5" y1="388.8" x2="391.5" y2="388.8" stroke="#666" stroke-width="0.9" />
<text x="392.3" y="392.1" font-size="9" textLength="14.2" lengthAdjust="spacingAndGlyphs" fill="#444" style=""  stroke="#444" stroke-width="0.08">130</text>
<text x="334.3" y="417.7" font-size="9" textLength="13.6" lengthAdjust="spacingAndGlyphs" fill="#444" style=""  stroke="#444" stroke-width="0.08">120</text>
<line x1="349.3" y1="411.5" x2="355.5" y2="408.6" stroke="#666" stroke-width="0.9" />
<text x="408.2" y="342.2" font-size="9" textLength="14.0" lengthAdjust="spacingAndGlyphs" fill="#444" style=""  stroke="#444" stroke-width="0.08">140</text>
<line x1="415.2" y1="345.3" x2="415.2" y2="350.4" stroke="#666" stroke-width="0.9" />
<text x="375.0" y="359.5" font-size="9.6" textLength="47.2" lengthAdjust="spacingAndGlyphs" fill="#444" style=""  stroke="#444" stroke-width="0.08">UUUUUUUU</text>
<line x1="423.4" y1="356.0" x2="432.3" y2="356.0" stroke="#666" stroke-width="0.9" />
<text x="433.0" y="359.5" font-size="9.6" textLength="13.3" lengthAdjust="spacingAndGlyphs" fill="#444" style=""  stroke="#444" stroke-width="0.08">OH</text>
<text x="354.6" y="431.6" font-size="9.8" text-anchor="middle" fill="#444" style="" stroke="#444" stroke-width="0.08">U</text>
<text x="383.9" y="431.6" font-size="9.8" text-anchor="middle" fill="#444" style="" stroke="#444" stroke-width="0.08">U</text>
<text x="363.7" y="445.8" font-size="9.8" text-anchor="middle" fill="#444" style="" stroke="#444" stroke-width="0.08">A</text>
<text x="374.8" y="445.8" font-size="9.8" text-anchor="middle" fill="#444" style="" stroke="#444" stroke-width="0.08">A</text>
<text x="388.5" y="414.5" font-size="9.8" text-anchor="middle" fill="#444" style="" stroke="#444" stroke-width="0.08">A</text>
<text x="326.3" y="411.3" font-size="9.8" text-anchor="middle" fill="#444" style="" stroke="#444" stroke-width="0.08">A</text>
<text x="332.7" y="408.0" font-size="9.8" text-anchor="middle" fill="#444" style="" stroke="#444" stroke-width="0.08">A</text>
<text x="42.4" y="415.8" font-size="10.4" textLength="279.2" lengthAdjust="spacingAndGlyphs" fill="#2a2a2a" style=""  stroke="#2a2a2a" stroke-width="0.15">AUGAAAGCAAUUUUCGUACUGAAAGGUUGGUGGCGCACUUCCUGA</text>
<path d="M38.4,409.8 L32.3,411.8 M35.3,409.6 L38.6,409.5 L37.0,411.6 M35.0,410.9 L36.0,414.0" stroke="#333" stroke-width="1.5" fill="none"/>
<line x1="66.0" y1="401.5" x2="66.0" y2="406.7" stroke="#3a3a3a" stroke-width="1.0" />
<text x="66.0" y="398.7" font-size="9" text-anchor="middle" fill="#2a2a2a" style="" stroke="#2a2a2a" stroke-width="0.15">30</text>
<line x1="128.4" y1="401.5" x2="128.4" y2="406.7" stroke="#3a3a3a" stroke-width="1.0" />
<text x="128.4" y="398.7" font-size="9" text-anchor="middle" fill="#2a2a2a" style="" stroke="#2a2a2a" stroke-width="0.15">40</text>
<line x1="191.6" y1="401.5" x2="191.6" y2="406.7" stroke="#3a3a3a" stroke-width="1.0" />
<text x="191.6" y="398.7" font-size="9" text-anchor="middle" fill="#2a2a2a" style="" stroke="#2a2a2a" stroke-width="0.15">50</text>
<line x1="253.6" y1="401.5" x2="253.6" y2="406.7" stroke="#3a3a3a" stroke-width="1.0" />
<text x="253.6" y="398.7" font-size="9" text-anchor="middle" fill="#2a2a2a" style="" stroke="#2a2a2a" stroke-width="0.15">60</text>
<line x1="313.6" y1="401.5" x2="313.6" y2="406.7" stroke="#3a3a3a" stroke-width="1.0" />
<text x="313.6" y="398.7" font-size="9" text-anchor="middle" fill="#2a2a2a" style="" stroke="#2a2a2a" stroke-width="0.15">70</text>
<line x1="42.2" y1="423.0" x2="321.5" y2="423.0" stroke="#2a2a2a" stroke-width="1.1" />
<line x1="42.2" y1="416.6" x2="42.2" y2="423.5" stroke="#3a3a3a" stroke-width="1.0" />
<line x1="61.8" y1="416.6" x2="61.8" y2="423.0" stroke="#3a3a3a" stroke-width="0.9" />
<line x1="64.2" y1="416.6" x2="64.2" y2="423.0" stroke="#3a3a3a" stroke-width="0.9" />
<line x1="80.3" y1="416.6" x2="80.3" y2="423.0" stroke="#3a3a3a" stroke-width="0.9" />
<line x1="82.7" y1="416.6" x2="82.7" y2="423.0" stroke="#3a3a3a" stroke-width="0.9" />
<line x1="98.1" y1="416.6" x2="98.1" y2="423.0" stroke="#3a3a3a" stroke-width="0.9" />
<line x1="100.5" y1="416.6" x2="100.5" y2="423.0" stroke="#3a3a3a" stroke-width="0.9" />
<line x1="116.1" y1="416.6" x2="116.1" y2="423.0" stroke="#3a3a3a" stroke-width="0.9" />
<line x1="118.5" y1="416.6" x2="118.5" y2="423.0" stroke="#3a3a3a" stroke-width="0.9" />
<line x1="135.5" y1="416.6" x2="135.5" y2="423.0" stroke="#3a3a3a" stroke-width="0.9" />
<line x1="137.9" y1="416.6" x2="137.9" y2="423.0" stroke="#3a3a3a" stroke-width="0.9" />
<line x1="154.3" y1="416.6" x2="154.3" y2="423.0" stroke="#3a3a3a" stroke-width="0.9" />
<line x1="156.7" y1="416.6" x2="156.7" y2="423.0" stroke="#3a3a3a" stroke-width="0.9" />
<line x1="174.0" y1="416.6" x2="174.0" y2="423.0" stroke="#3a3a3a" stroke-width="0.9" />
<line x1="176.4" y1="416.6" x2="176.4" y2="423.0" stroke="#3a3a3a" stroke-width="0.9" />
<line x1="193.8" y1="416.6" x2="193.8" y2="423.0" stroke="#3a3a3a" stroke-width="0.9" />
<line x1="196.2" y1="416.6" x2="196.2" y2="423.0" stroke="#3a3a3a" stroke-width="0.9" />
<line x1="211.9" y1="416.6" x2="211.9" y2="423.0" stroke="#3a3a3a" stroke-width="0.9" />
<line x1="214.3" y1="416.6" x2="214.3" y2="423.0" stroke="#3a3a3a" stroke-width="0.9" />
<line x1="230.8" y1="416.6" x2="230.8" y2="423.0" stroke="#3a3a3a" stroke-width="0.9" />
<line x1="233.2" y1="416.6" x2="233.2" y2="423.0" stroke="#3a3a3a" stroke-width="0.9" />
<line x1="248.8" y1="416.6" x2="248.8" y2="423.0" stroke="#3a3a3a" stroke-width="0.9" />
<line x1="251.2" y1="416.6" x2="251.2" y2="423.0" stroke="#3a3a3a" stroke-width="0.9" />
<line x1="267.0" y1="416.6" x2="267.0" y2="423.0" stroke="#3a3a3a" stroke-width="0.9" />
<line x1="269.4" y1="416.6" x2="269.4" y2="423.0" stroke="#3a3a3a" stroke-width="0.9" />
<line x1="285.8" y1="416.6" x2="285.8" y2="423.0" stroke="#3a3a3a" stroke-width="0.9" />
<line x1="288.2" y1="416.6" x2="288.2" y2="423.0" stroke="#3a3a3a" stroke-width="0.9" />
<line x1="302.3" y1="416.6" x2="302.3" y2="423.0" stroke="#3a3a3a" stroke-width="0.9" />
<line x1="304.7" y1="416.6" x2="304.7" y2="423.0" stroke="#3a3a3a" stroke-width="0.9" />
<line x1="321.5" y1="416.6" x2="321.5" y2="423.5" stroke="#3a3a3a" stroke-width="1.0" />
<line x1="51.7" y1="423.0" x2="51.7" y2="430.4" stroke="#3a3a3a" stroke-width="1.0" />
<line x1="72.2" y1="423.0" x2="72.2" y2="430.4" stroke="#3a3a3a" stroke-width="1.0" />
<line x1="90.7" y1="423.0" x2="90.7" y2="430.4" stroke="#3a3a3a" stroke-width="1.0" />
<line x1="108.7" y1="423.0" x2="108.7" y2="430.4" stroke="#3a3a3a" stroke-width="1.0" />
<line x1="126.6" y1="423.0" x2="126.6" y2="430.4" stroke="#3a3a3a" stroke-width="1.0" />
<line x1="146.5" y1="423.0" x2="146.5" y2="430.4" stroke="#3a3a3a" stroke-width="1.0" />
<line x1="166.3" y1="423.0" x2="166.3" y2="430.4" stroke="#3a3a3a" stroke-width="1.0" />
<line x1="185.4" y1="423.0" x2="185.4" y2="430.4" stroke="#3a3a3a" stroke-width="1.0" />
<line x1="203.6" y1="423.0" x2="203.6" y2="430.4" stroke="#3a3a3a" stroke-width="1.0" />
<line x1="222.7" y1="423.0" x2="222.7" y2="430.4" stroke="#3a3a3a" stroke-width="1.0" />
<line x1="240.9" y1="423.0" x2="240.9" y2="430.4" stroke="#3a3a3a" stroke-width="1.0" />
<line x1="259.2" y1="423.0" x2="259.2" y2="430.4" stroke="#3a3a3a" stroke-width="1.0" />
<line x1="276.2" y1="423.0" x2="276.2" y2="430.4" stroke="#3a3a3a" stroke-width="1.0" />
<line x1="295.3" y1="423.0" x2="295.3" y2="430.4" stroke="#3a3a3a" stroke-width="1.0" />
<line x1="313.7" y1="423.0" x2="313.7" y2="430.4" stroke="#3a3a3a" stroke-width="1.0" />
<text x="45.7" y="440.0" font-size="8.8" textLength="13.8" lengthAdjust="spacingAndGlyphs" fill="#333" style=""  stroke="#333" stroke-width="0.2">Met</text>
<text x="66.0" y="440.0" font-size="8.8" textLength="12.5" lengthAdjust="spacingAndGlyphs" fill="#333" style=""  stroke="#333" stroke-width="0.2">Lys</text>
<text x="85.0" y="440.0" font-size="8.8" textLength="12.0" lengthAdjust="spacingAndGlyphs" fill="#333" style=""  stroke="#333" stroke-width="0.2">Ala</text>
<text x="103.7" y="440.0" font-size="8.8" textLength="8.0" lengthAdjust="spacingAndGlyphs" fill="#333" style=""  stroke="#333" stroke-width="0.2">Ile</text>
<text x="119.8" y="440.0" font-size="8.8" textLength="14.0" lengthAdjust="spacingAndGlyphs" fill="#333" style=""  stroke="#333" stroke-width="0.2">Phe</text>
<text x="141.3" y="440.0" font-size="8.8" textLength="11.2" lengthAdjust="spacingAndGlyphs" fill="#333" style=""  stroke="#333" stroke-width="0.2">Val</text>
<text x="160.5" y="440.0" font-size="8.8" textLength="11.0" lengthAdjust="spacingAndGlyphs" fill="#333" style=""  stroke="#333" stroke-width="0.2">Leu</text>
<text x="179.3" y="440.0" font-size="8.8" textLength="12.5" lengthAdjust="spacingAndGlyphs" fill="#333" style=""  stroke="#333" stroke-width="0.2">Lys</text>
<text x="198.2" y="440.0" font-size="8.8" textLength="12.5" lengthAdjust="spacingAndGlyphs" fill="#333" style=""  stroke="#333" stroke-width="0.2">Gly</text>
<text x="216.6" y="440.0" font-size="8.8" textLength="11.8" lengthAdjust="spacingAndGlyphs" fill="#333" style=""  stroke="#333" stroke-width="0.2">Trp</text>
<text x="234.6" y="440.0" font-size="8.8" textLength="11.8" lengthAdjust="spacingAndGlyphs" fill="#333" style=""  stroke="#333" stroke-width="0.2">Trp</text>
<text x="250.9" y="440.0" font-size="8.8" textLength="11.5" lengthAdjust="spacingAndGlyphs" fill="#333" style=""  stroke="#333" stroke-width="0.2">Arg</text>
<text x="270.2" y="440.0" font-size="8.8" textLength="10.5" lengthAdjust="spacingAndGlyphs" fill="#333" style=""  stroke="#333" stroke-width="0.2">Thr</text>
<text x="288.6" y="440.0" font-size="8.8" textLength="10.4" lengthAdjust="spacingAndGlyphs" fill="#333" style=""  stroke="#333" stroke-width="0.2">Ser</text>
<text x="304.3" y="440.0" font-size="8.8" textLength="18.4" lengthAdjust="spacingAndGlyphs" fill="#333" style=""  stroke="#333" stroke-width="0.2">Stop</text>
<text x="458.3" y="317.9" font-size="9.3" textLength="12.1" lengthAdjust="spacingAndGlyphs" fill="#3a3a3a" style=""  stroke="#3a3a3a" stroke-width="0.12">HO</text>
<line x1="471.6" y1="314.6" x2="479.9" y2="314.6" stroke="#2a2a2a" stroke-width="0.9" />
<text x="480.5" y="317.9" font-size="9.3" textLength="30.5" lengthAdjust="spacingAndGlyphs" fill="#3a3a3a" style=""  stroke="#3a3a3a" stroke-width="0.12">UUUUA</text>
<text x="540.2" y="319.0" font-size="9.3" textLength="77.2" lengthAdjust="spacingAndGlyphs" fill="#3a3a3a" style=""  stroke="#3a3a3a" stroke-width="0.12">GACACCCUAAU 5′</text>
<text x="0" y="0" font-size="8.5" text-anchor="middle" fill="#3a3a3a" transform="translate(513.8,323.3) rotate(90) translate(0,2.95)">C</text>
<text x="0" y="0" font-size="8.5" text-anchor="middle" fill="#3a3a3a" transform="translate(532.3,323.3) rotate(-90) translate(0,2.95)">G</text>
<line x1="516.8" y1="323.3" x2="528.7" y2="323.3" stroke="#2a2a2a" stroke-width="1.1" />
<text x="0" y="0" font-size="8.5" text-anchor="middle" fill="#3a3a3a" transform="translate(513.8,329.8) rotate(90) translate(0,2.95)">G</text>
<text x="0" y="0" font-size="8.5" text-anchor="middle" fill="#3a3a3a" transform="translate(532.3,329.8) rotate(-90) translate(0,2.95)">C</text>
<line x1="516.8" y1="329.8" x2="528.7" y2="329.8" stroke="#2a2a2a" stroke-width="1.1" />
<text x="0" y="0" font-size="8.5" text-anchor="middle" fill="#3a3a3a" transform="translate(513.8,336.4) rotate(90) translate(0,2.95)">G</text>
<text x="0" y="0" font-size="8.5" text-anchor="middle" fill="#3a3a3a" transform="translate(532.3,336.4) rotate(-90) translate(0,2.95)">C</text>
<line x1="516.8" y1="336.4" x2="528.7" y2="336.4" stroke="#2a2a2a" stroke-width="1.1" />
<text x="0" y="0" font-size="8.5" text-anchor="middle" fill="#3a3a3a" transform="translate(513.8,343) rotate(90) translate(0,2.95)">G</text>
<text x="0" y="0" font-size="8.5" text-anchor="middle" fill="#3a3a3a" transform="translate(532.3,343) rotate(-90) translate(0,2.95)">C</text>
<line x1="516.8" y1="343.0" x2="528.7" y2="343.0" stroke="#2a2a2a" stroke-width="1.1" />
<text x="0" y="0" font-size="8.5" text-anchor="middle" fill="#3a3a3a" transform="translate(513.8,349.6) rotate(90) translate(0,2.95)">C</text>
<text x="0" y="0" font-size="8.5" text-anchor="middle" fill="#3a3a3a" transform="translate(532.3,349.6) rotate(-90) translate(0,2.95)">G</text>
<line x1="516.8" y1="349.6" x2="528.7" y2="349.6" stroke="#2a2a2a" stroke-width="1.1" />
<text x="0" y="0" font-size="8.5" text-anchor="middle" fill="#3a3a3a" transform="translate(513.8,356.2) rotate(90) translate(0,2.95)">G</text>
<text x="0" y="0" font-size="8.5" text-anchor="middle" fill="#3a3a3a" transform="translate(532.3,356.2) rotate(-90) translate(0,2.95)">C</text>
<line x1="516.8" y1="356.2" x2="528.7" y2="356.2" stroke="#2a2a2a" stroke-width="1.1" />
<text x="0" y="0" font-size="8.5" text-anchor="middle" fill="#3a3a3a" transform="translate(513.8,362.7) rotate(90) translate(0,2.95)">G</text>
<text x="0" y="0" font-size="8.5" text-anchor="middle" fill="#3a3a3a" transform="translate(532.3,362.7) rotate(-90) translate(0,2.95)">A</text>
<line x1="516.8" y1="362.7" x2="528.7" y2="362.7" stroke="#2a2a2a" stroke-width="1.1" />
<text x="0" y="0" font-size="8.5" text-anchor="middle" fill="#3a3a3a" transform="translate(513.8,369.3) rotate(90) translate(0,2.95)">C</text>
<text x="0" y="0" font-size="8.5" text-anchor="middle" fill="#3a3a3a" transform="translate(532.3,369.3) rotate(-90) translate(0,2.95)">C</text>
<line x1="516.8" y1="369.3" x2="528.7" y2="369.3" stroke="#2a2a2a" stroke-width="1.1" />
<text x="509.3" y="383.5" font-size="8.8" text-anchor="middle" fill="#3a3a3a" style="" stroke="#3a3a3a" stroke-width="0.12">G</text>
<text x="512.0" y="394.0" font-size="8.8" text-anchor="middle" fill="#3a3a3a" style="" stroke="#3a3a3a" stroke-width="0.12">C</text>
<text x="523.6" y="401.1" font-size="8.8" text-anchor="middle" fill="#3a3a3a" style="" stroke="#3a3a3a" stroke-width="0.12">C</text>
<text x="536.0" y="395.4" font-size="8.8" text-anchor="middle" fill="#3a3a3a" style="" stroke="#3a3a3a" stroke-width="0.12">U</text>
<text x="537.9" y="383.9" font-size="8.8" text-anchor="middle" fill="#3a3a3a" style="" stroke="#3a3a3a" stroke-width="0.12">U</text>
<text x="502.0" y="418.80" font-size="8.4" textLength="47.8" lengthAdjust="spacingAndGlyphs" fill="#3a3a3a" stroke="#3a3a3a" stroke-width="0.1"><tspan font-size="9.4">Т</tspan>ерминатор</text>
<text x="499.5" y="430.30" font-size="8.4" textLength="52.2" lengthAdjust="spacingAndGlyphs" fill="#3a3a3a" stroke="#3a3a3a" stroke-width="0.1"><tspan font-size="8.4">т</tspan>ранскрипции</text>
</svg>
</body></html>
